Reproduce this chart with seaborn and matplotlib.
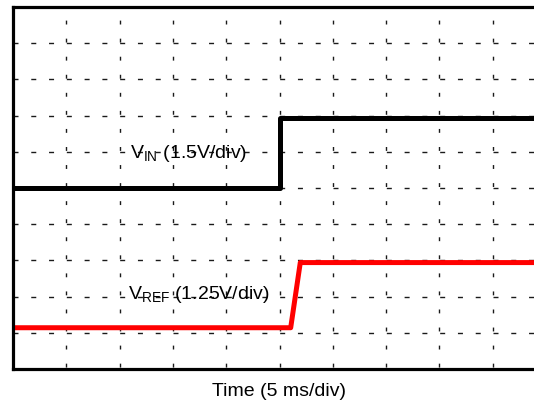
import numpy as np
import pandas as pd
import seaborn as sns
import matplotlib.pyplot as plt

# time axis in ms (5 ms/div), levels in screen divisions from the bottom
vin_time = [0, 25.0, 25.0, 50]
vin_level = [5.0, 5.0, 6.93, 6.93]
vref_time = [0, 26.05, 26.95, 50]
vref_level = [1.14, 1.14, 2.94, 2.94]

vin_label = r"V$_{\mathrm{IN}}$ (1.5V/div)"
vref_label = r"V$_{\mathrm{REF}}$ (1.25V/div)"
x_label = "Time (5 ms/div)"

sns.set_style("white")
plt.rcParams['font.family'] = ['Liberation Sans', 'DejaVu Sans']
plt.rcParams['mathtext.fontset'] = 'custom'
plt.rcParams['mathtext.rm'] = 'Liberation Sans'
plt.rcParams['text.color'] = 'black'
plt.rcParams['axes.labelcolor'] = 'black'

fig = plt.figure(figsize=(5.34, 4.0), dpi=100)
# axes run past the right edge of the image, as in the scope capture
ax = fig.add_axes([13 / 534, 31 / 400, 533 / 534, 362 / 400])

vin = pd.DataFrame({"t": vin_time, "v": vin_level})
vref = pd.DataFrame({"t": vref_time, "v": vref_level})
sns.lineplot(data=vin, x="t", y="v", ax=ax, color="black", lw=3.6,
             estimator=None, sort=False)
sns.lineplot(data=vref, x="t", y="v", ax=ax, color="#ff0000", lw=3.6,
             estimator=None, sort=False)

ax.set_xlim(0, 50)
ax.set_ylim(0, 10)
ax.set_xticks(np.arange(0, 51, 5))
ax.set_yticks(np.arange(0, 11, 1))
ax.tick_params(length=0, labelbottom=False, labelleft=False)
ax.xaxis.grid(True, color="0.1", lw=1.0, linestyle=(11.6, (2.8, 10.2)))
ax.yaxis.grid(True, color="0.1", lw=1.0, linestyle=(0, (3.6, 9.2)))
ax.set_axisbelow(True)

for side in ["left", "bottom", "top"]:
    ax.spines[side].set_color("black")
    ax.spines[side].set_linewidth(2.3)
ax.spines["right"].set_visible(False)

ax.text(11.0, 5.83, vin_label, fontsize=14, va="baseline", ha="left")
ax.text(10.8, 1.93, vref_label, fontsize=14, va="baseline", ha="left")

ax.set_xlabel(x_label, fontsize=14, labelpad=10)
ax.set_ylabel("")

fig.savefig("out.png", dpi=100)
